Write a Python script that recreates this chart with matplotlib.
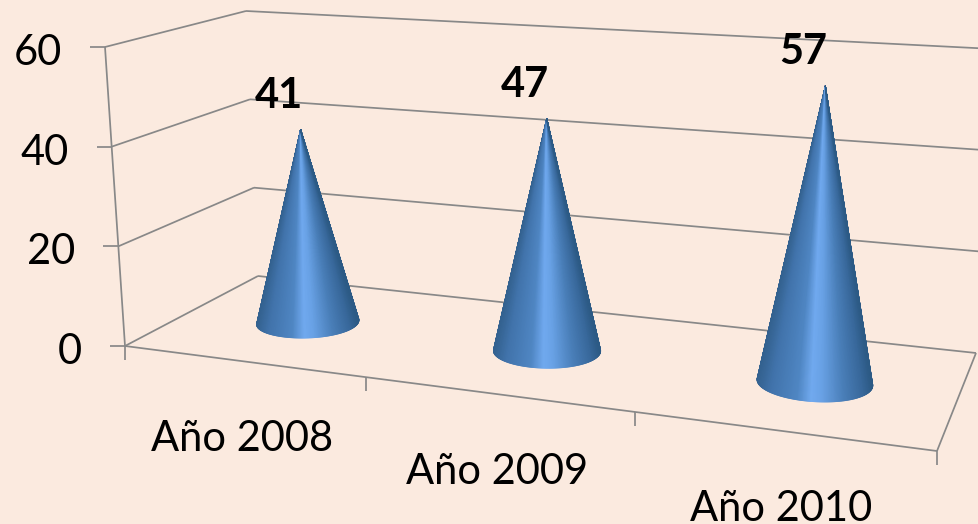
import numpy as np
import matplotlib
matplotlib.use("Agg")
import matplotlib.pyplot as plt
from matplotlib.collections import PolyCollection
from matplotlib.colors import LinearSegmentedColormap

# Datos
categorias = ['Año 2008', 'Año 2009', 'Año 2010']
valores = [41, 47, 57]
ticks_y = [0, 20, 40, 60]

# Esquinas de la caja 3D en pixeles (frente/fondo, izquierda/derecha)
piso = {'fi': (125, 346), 'fd': (937, 451), 'ai': (258, 276), 'ad': (976, 353)}
techo = {'fi': (105, 47), 'fd': (955, 99), 'ai': (246, 11), 'ad': (994, 49)}

fondo = '#fbeadf'
gris = '#888888'
cmap = LinearSegmentedColormap.from_list('cono', [
    (0.0, '#33618f'), (0.12, '#4173ab'), (0.35, '#4f86c3'), (0.47, '#70a9ef'),
    (0.56, '#69a2e6'), (0.75, '#4a7fb9'), (0.92, '#38689b'), (1.0, '#2c5a85')])


# perspectiva del eje de categorias
def escala(u):
    return u / (3.5535 - 0.1845 * u)


# u: categoria (0-3), d: profundidad (0-1), v: valor
def proy(u, d, v):
    s = escala(u)
    t = v / 60
    res = []
    for k in range(2):
        abajo = (1-d)*((1-s)*piso['fi'][k] + s*piso['fd'][k]) + d*((1-s)*piso['ai'][k] + s*piso['ad'][k])
        arriba = (1-d)*((1-s)*techo['fi'][k] + s*techo['fd'][k]) + d*((1-s)*techo['ai'][k] + s*techo['ad'][k])
        res.append((1-t)*abajo + t*arriba)
    return res


def linea(ax, a, b):
    ax.plot([a[0], b[0]], [a[1], b[1]], color=gris, lw=1.25, solid_capstyle='butt', zorder=1)


def cono(ax, u, valor, radio=0.2):
    # la altura en el centro del piso es algo menor por la perspectiva
    apice = np.array(proy(u, 0.53, valor * 0.98))
    ang = np.linspace(0, 2*np.pi, 361)[:-1]
    base = np.array([proy(u + radio*np.cos(a), 0.53 + radio*np.sin(a), 0) for a in ang])

    # silueta: puntos extremos vistos desde el apice
    rel = base - apice
    giro = np.arctan2(rel[:, 0], rel[:, 1])
    i_izq, i_der = np.argmin(giro), np.argmax(giro)
    n = len(base)
    arco = [i_izq]
    paso = 1 if base[(i_izq + 1) % n, 1] > base[(i_izq - 1) % n, 1] else -1
    while arco[-1] != i_der:
        arco.append((arco[-1] + paso) % n)
    arco = base[arco]

    xmin, xmax = arco[:, 0].min(), arco[:, 0].max()
    tri = [[apice, arco[i], arco[i+1]] for i in range(len(arco)-1)]
    frac = [(0.5*(arco[i, 0] + arco[i+1, 0]) - xmin) / (xmax - xmin) for i in range(len(arco)-1)]
    cols = cmap(frac)
    ax.add_collection(PolyCollection(tri, facecolors=cols, edgecolors=cols, linewidths=0.6, zorder=3))
    return apice


def main():
    plt.rcParams['font.family'] = ['Lato', 'DejaVu Sans']
    fig = plt.figure(figsize=(9.79, 5.24), dpi=100, facecolor=fondo)
    ax = fig.add_axes([0, 0, 1, 1])
    ax.set_xlim(0, 979)
    ax.set_ylim(524, 0)
    ax.axis('off')

    # rejilla y paredes
    for v in ticks_y:
        frente = proy(0, 0, v)
        atras = proy(0, 1, v)
        linea(ax, (frente[0] - 15, frente[1]), frente)
        linea(ax, frente, atras)
        linea(ax, atras, proy(3, 1, v))
        ax.text(frente[0] - 43, frente[1] + 6, str(v), ha='right', va='center', fontsize=30, color='black', zorder=5)
    linea(ax, proy(0, 0, 0), proy(0, 0, 60))

    # piso y marcas del eje x
    linea(ax, proy(0, 0, 0), proy(3, 0, 0))
    linea(ax, proy(3, 0, 0), proy(3, 1, 0))
    for u in range(4):
        p = proy(u, 0, 0)
        linea(ax, p, (p[0], p[1] + 14))

    # conos y etiquetas
    for i, (cat, val) in enumerate(zip(categorias, valores)):
        apice = cono(ax, i + 0.51, val)
        ax.text(apice[0] - 22, apice[1] - 34, str(val), ha='center', va='center', fontsize=30,
                fontweight='bold', color='black', zorder=5)
        p = proy(i + 0.5, 0, 0)
        ax.text(p[0], p[1] + 78, cat, ha='center', va='center', fontsize=30, color='black', zorder=5)

    fig.savefig('out.png', dpi=100, facecolor=fondo)


if __name__ == "__main__":
    main()
